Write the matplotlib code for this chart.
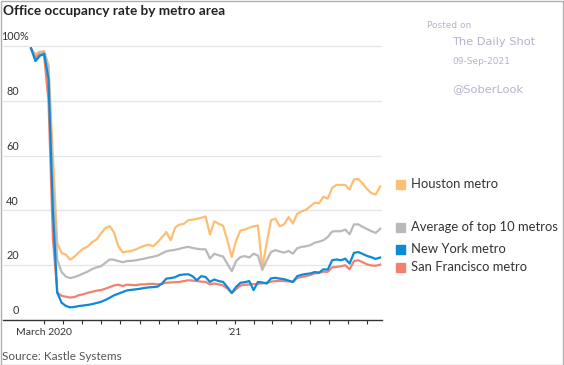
import pandas as pd
import matplotlib.pyplot as plt
from matplotlib.patches import Rectangle

plt.rcParams["font.family"] = ["Lato", "DejaVu Sans"]

# ── weekly readings (share of pre-pandemic occupancy, %) ─────────────────────
dates = pd.date_range("2020-02-09", periods=81, freq="7D")

houston = [99, 97, 98, 98, 93, 60, 28, 24.5, 23.8, 22, 23.2, 24.8, 26.1, 26.8,
           28.4, 29.4, 31.5, 33.5, 34.3, 32, 27, 24.7, 25, 25.2, 25.8, 26.5,
           27.1, 27.5, 26.9, 28.4, 30.2, 32.1, 29.1, 33.7, 34.8, 35.1, 36.4,
           36.6, 36.9, 37.3, 37.8, 31.2, 36, 35.1, 34.4, 29, 23, 29, 32.7, 33,
           33.7, 34.2, 34.5, 19, 28, 36.4, 37, 34.2, 34.9, 37.6, 35.2, 38.8,
           39.6, 40.2, 41.5, 42.8, 42.6, 45, 44.3, 48.2, 49.3, 49.3, 49.3, 47.6,
           51.3, 51.5, 49.8, 47.8, 46.3, 45.8, 48.7]

top10 = [99, 96, 97.5, 98, 92, 50, 22, 17.5, 15.8, 15.3, 15.7, 16.3, 17, 17.7,
         18.6, 19.2, 19.6, 20.8, 22.1, 22, 21.5, 21.1, 21.5, 21.6, 21.8, 22.1,
         22.4, 22.8, 23.1, 23.5, 24.3, 25.1, 25.4, 25.6, 26, 26.4, 26.7, 26.3,
         26, 25.8, 25.8, 22.4, 24.2, 23.6, 23.2, 20.5, 17.8, 21.5, 23, 23.3,
         22.8, 24.2, 23.5, 18.3, 21.8, 24.8, 25.5, 25, 24.6, 25.2, 24.2, 26.2,
         26.7, 26.9, 27.3, 28.2, 28.6, 29.1, 30.3, 32.3, 32.4, 32.4, 33, 31.3,
         34.9, 34.9, 34, 33.2, 32.4, 31.8, 33.3]

new_york = [99.2, 94.5, 96.4, 97.2, 88, 40, 10, 6.3, 5.1, 4.6, 4.8, 5.1, 5.3,
            5.5, 5.8, 6.2, 6.6, 7.3, 8.1, 9, 9.6, 10.2, 10.8, 11, 11.2, 11.4,
            11.7, 11.9, 12, 12.2, 13.3, 15.1, 15.3, 15.6, 16.4, 16.6, 16.7, 16,
            14.5, 16, 15.7, 13.9, 14.8, 14.2, 13.9, 12, 9.9, 12.1, 13.6, 13.8,
            14.2, 10.9, 13.9, 13.7, 13.3, 15.2, 15.4, 15.1, 14.9, 14.4, 13.9,
            16, 16.5, 16.8, 17, 17.5, 17.3, 18.5, 18.4, 21.8, 22.1, 21.8, 22.4,
            20.6, 24.5, 24.8, 24.1, 23.4, 22.9, 22.3, 22.8]

san_francisco = [99, 95.5, 97, 96.5, 80, 30, 10, 8.8, 8.5, 8.2, 8.4, 9.1, 9.4,
                 9.9, 10.3, 10.7, 10.9, 11.4, 12, 12.6, 12.9, 12.4, 12.9, 12.8,
                 12.7, 13, 13, 13.2, 13.2, 13, 13.2, 13.6, 13.7, 13.8, 13.9,
                 14.2, 14.5, 14.4, 14.2, 14, 13.9, 13, 13.3, 13, 12.6, 11.5, 9.8,
                 11.3, 12.6, 12.8, 13, 13.1, 13.2, 13.4, 13.6, 14, 14.2, 14.3,
                 14.2, 14.1, 13.9, 15.3, 15.7, 16, 16.4, 17, 17.2, 17.6, 17.6,
                 19.2, 19.4, 19.6, 20, 18.5, 21.5, 21.8, 21.1, 20.3, 19.9, 19.8,
                 20.2]

series = [
    ("Houston metro", houston, "#fdbe72"),
    ("Average of top 10 metros", top10, "#b9b9b9"),
    ("San Francisco metro", san_francisco, "#f4806f"),
    ("New York metro", new_york, "#0b8bd6"),
]
legend_order = ["Houston metro", "Average of top 10 metros",
                "New York metro", "San Francisco metro"]
legend_y = [184, 227, 249, 267]

y_ticks = [20, 40, 60, 80, 100]
month_ticks = pd.date_range("2020-03-01", "2021-08-01", freq="MS")

# ── figure ───────────────────────────────────────────────────────────────────
W, H = 564, 365
fig = plt.figure(figsize=(W / 100, H / 100), dpi=100)
ax = fig.add_axes([3 / W, (H - 320) / H, 379 / W, 280 / H])


def fx(px):
    return px / W


def fy(py):
    return 1 - py / H


for name, vals, col in series:
    ax.plot(dates, vals, color=col, linewidth=1.6, solid_joinstyle="round")

ax.set_ylim(0, 102.2)
ax.set_xlim(pd.Timestamp("2019-12-26"), pd.Timestamp("2021-08-25"))

ax.set_yticks(y_ticks)
ax.yaxis.grid(True, color="#e6e6e6", linewidth=1)
ax.set_axisbelow(True)
ax.tick_params(axis="y", length=0, labelleft=False)

ax.set_xticks(month_ticks)
xlabels = [""] * len(month_ticks)
xlabels[0] = "March 2020"
xlabels[10] = "\u201921"
ax.set_xticklabels(xlabels, fontsize=7.5, color="#333333")
ax.tick_params(axis="x", length=3, width=0.8, color="#333333", pad=3)

for s in ["top", "right", "left"]:
    ax.spines[s].set_visible(False)
ax.spines["bottom"].set_color("#333333")
ax.spines["bottom"].set_linewidth(1)

# y labels sit above the gridlines
ytx = ax.get_yaxis_transform()
for v in [0] + y_ticks:
    if v == 100:
        ax.text(-0.005, v + 1.4, "100%", transform=ytx, ha="left", va="bottom",
                fontsize=7.8, color="#333333")
    else:
        ax.text(0.042, v + 1.4, str(v), transform=ytx, ha="right", va="bottom",
                fontsize=7.8, color="#333333")

# ── legend ───────────────────────────────────────────────────────────────────
colors = {name: col for name, _, col in series}
for name, py in zip(legend_order, legend_y):
    fig.patches.append(Rectangle((fx(396), fy(py + 4.5)), 9 / W, 9 / H,
                                 transform=fig.transFigure,
                                 color=colors[name]))
    fig.text(fx(411), fy(py), name, ha="left", va="center",
             fontsize=9.4, color="#333333")

# ── titles, source, watermark ────────────────────────────────────────────────
fig.text(fx(3), fy(11), "Office occupancy rate by metro area", ha="left",
         va="center", fontsize=9.8, fontweight="bold", color="#222222")
fig.text(fx(2), fy(356), "Source: Kastle Systems", ha="left", va="center",
         fontsize=8.5, color="#555555")

wm = "#b3b3cf"
fig.text(fx(427), fy(26), "Posted on", fontsize=6.5, color=wm, va="center",
         family="DejaVu Sans")
fig.text(fx(452), fy(42), "The Daily Shot", fontsize=8.2, color=wm, va="center",
         family="DejaVu Sans")
fig.text(fx(452), fy(61), "09-Sep-2021", fontsize=6.5, color=wm, va="center",
         family="DejaVu Sans")
fig.text(fx(452), fy(89), "@SoberLook", fontsize=8.2, color=wm, va="center",
         family="DejaVu Sans")

fig.patches.append(Rectangle((0.5 / W, 0.5 / H), (W - 1.5) / W, (H - 1.5) / H,
                             transform=fig.transFigure, fill=False,
                             edgecolor="#b0b0b0", linewidth=1))

fig.savefig("out.png", dpi=100)
plt.close(fig)
